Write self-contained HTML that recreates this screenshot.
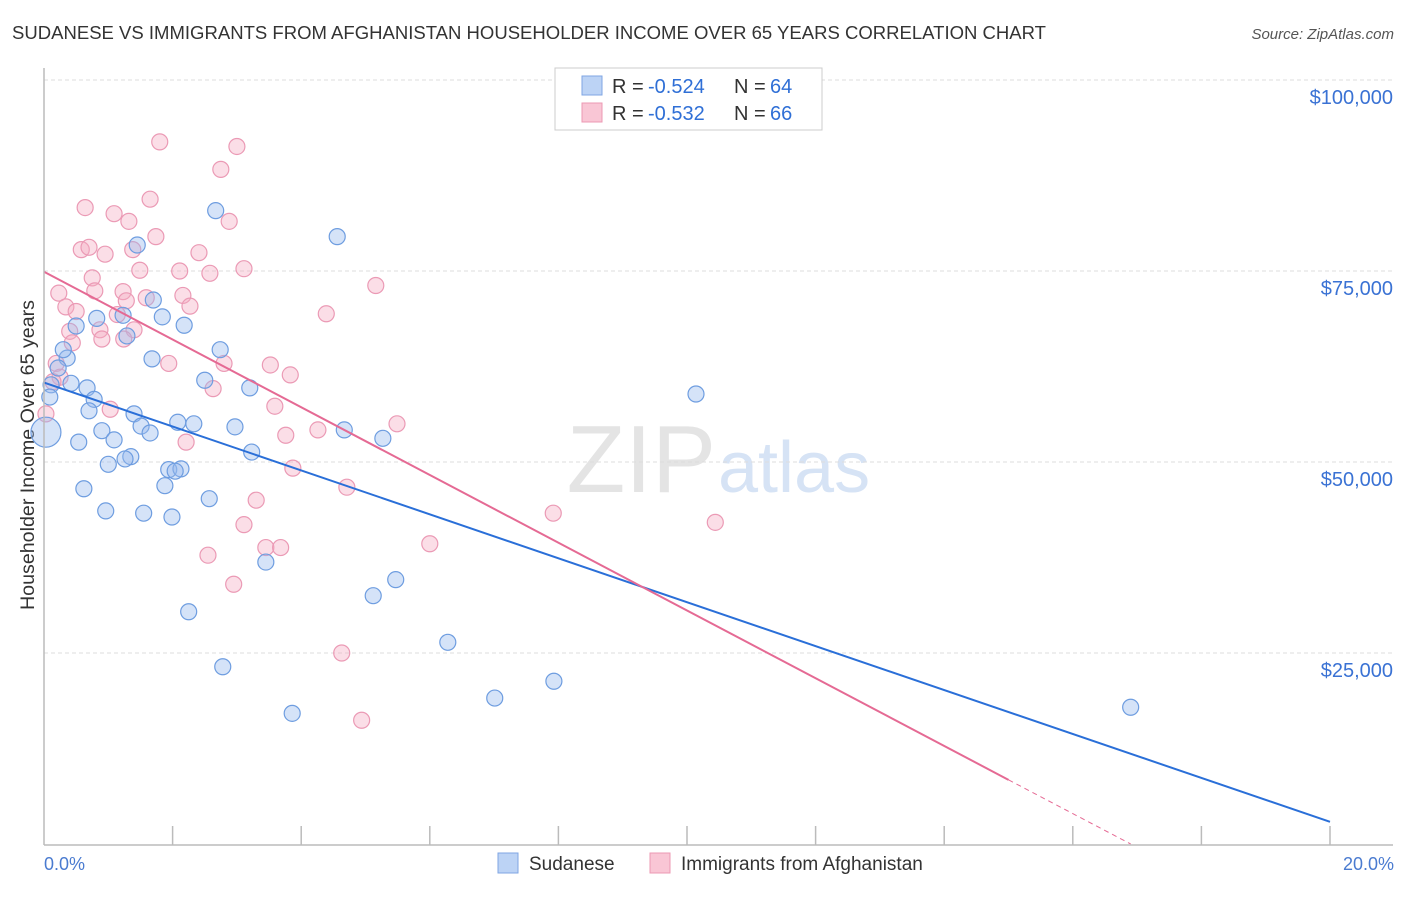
<!DOCTYPE html>
<html><head><meta charset="utf-8"><style>
body{margin:0;background:#fff;font-family:"Liberation Sans",sans-serif;}
svg text{font-family:"Liberation Sans",sans-serif;}
</style></head><body>
<svg id="c" width="1406" height="892">
<text x="12" y="39" font-size="18" fill="#333" textLength="1034" lengthAdjust="spacingAndGlyphs">SUDANESE VS IMMIGRANTS FROM AFGHANISTAN HOUSEHOLDER INCOME OVER 65 YEARS CORRELATION CHART</text>
<text x="1394" y="39" font-size="15" fill="#555" font-style="italic" text-anchor="end">Source: ZipAtlas.com</text>
<text x="716" y="492" font-size="96" fill="#e4e4e4" text-anchor="end" font-family="Liberation Serif">ZIP</text>
<text x="718" y="492" font-size="72" fill="#d6e3f5">atlas</text>
<text transform="translate(34,455) rotate(-90)" font-size="19" fill="#333" text-anchor="middle" textLength="310" lengthAdjust="spacingAndGlyphs">Householder Income Over 65 years</text>
<g id="grid"></g><g id="pts"></g><g id="lines"></g>
<line x1="44" y1="68" x2="44" y2="845" stroke="#bbb" stroke-width="1.5"/>
<line x1="44" y1="845" x2="1393" y2="845" stroke="#bbb" stroke-width="1.5"/>
<text x="44" y="870" font-size="18" fill="#4a7bd0">0.0%</text>
<text x="1394" y="870" font-size="18" fill="#4a7bd0" text-anchor="end">20.0%</text>
<g>
<rect x="555" y="68" width="267" height="62" fill="#fff" stroke="#ccc"/>
<rect x="582" y="76" width="20" height="19" fill="#bcd3f5" stroke="#7fa6e3"/>
<rect x="582" y="103" width="20" height="19" fill="#f9c6d5" stroke="#ec98b3"/>
<text x="612" y="93" font-size="20" fill="#333">R =</text><text x="648" y="93" font-size="20" fill="#2f6fd6">-0.524</text>
<text x="734" y="93" font-size="20" fill="#333">N =</text><text x="770" y="93" font-size="20" fill="#2f6fd6">64</text>
<text x="612" y="120" font-size="20" fill="#333">R =</text><text x="648" y="120" font-size="20" fill="#2f6fd6">-0.532</text>
<text x="734" y="120" font-size="20" fill="#333">N =</text><text x="770" y="120" font-size="20" fill="#2f6fd6">66</text>
</g>
<g>
<rect x="498" y="853" width="20" height="20" fill="#bcd3f5" stroke="#7fa6e3"/>
<text x="529" y="870" font-size="19" fill="#333">Sudanese</text>
<rect x="650" y="853" width="20" height="20" fill="#f9c6d5" stroke="#ec98b3"/>
<text x="681" y="870" font-size="19" fill="#333">Immigrants from Afghanistan</text>
</g>
</svg>
<script>
const yTicks=[25000,50000,75000,100000];
const yTickLabels=["$25,000","$50,000","$75,000","$100,000"];
const blueX=[2.67,4.56,1.45,1.70,2.18,1.84,0.82,1.23,1.29,0.50,0.36,0.30,1.68,0.22,2.74,2.50,0.42,0.67,0.11,0.78,0.09,3.20,1.40,0.70,2.08,2.33,1.51,1.65,2.97,4.67,5.27,0.90,1.09,0.54,3.23,1.35,1.26,1.00,1.94,2.13,2.04,1.88,0.62,2.57,0.96,1.55,1.99,10.14,3.45,5.47,5.12,2.25,6.28,2.78,7.93,7.01,3.86,16.9,0.03];
const blueY=[82.9,79.5,78.4,71.2,67.9,69.0,68.8,69.2,66.5,67.8,63.6,64.7,63.5,62.3,64.7,60.7,60.3,59.7,60.1,58.2,58.5,59.7,56.3,56.7,55.2,55.0,54.7,53.8,54.6,54.2,53.1,54.1,52.9,52.6,51.3,50.7,50.4,49.7,49.0,49.1,48.8,46.9,46.5,45.2,43.6,43.3,42.8,58.9,36.9,34.6,32.5,30.4,26.4,23.2,21.3,19.1,17.1,17.9,53.9];
const pinkX=[1.8,3.0,2.75,0.64,1.09,1.65,1.32,2.88,0.58,0.7,0.95,1.74,1.38,2.41,3.11,2.11,2.58,1.49,0.75,0.79,1.23,2.16,1.59,0.23,0.34,0.5,2.27,1.14,4.39,5.16,0.4,0.87,1.4,0.44,1.24,0.9,0.19,1.94,2.8,3.52,3.83,0.25,2.63,0.14,1.03,3.59,0.03,5.49,4.26,3.76,2.21,4.71,3.87,7.92,10.44,3.3,3.11,3.45,3.68,6.0,2.55,2.95,4.63,4.94,1.28];
const pinkY=[91.9,91.3,88.3,83.3,82.5,84.4,81.5,81.5,77.8,78.1,77.2,79.5,77.8,77.4,75.3,75.0,74.7,75.1,74.1,72.4,72.3,71.8,71.5,72.1,70.3,69.7,70.4,69.3,69.4,73.1,67.1,67.3,67.3,65.6,66.1,66.1,62.9,62.9,62.9,62.7,61.4,61.1,59.6,60.5,56.9,57.3,56.3,55.0,54.2,53.5,52.6,46.7,49.2,43.3,42.1,45.0,41.8,38.8,38.8,39.3,37.8,34.0,25.0,16.2,71.1];
const blueLine=[[0,60.4],[20,2.9]];
const pinkLine=[[0,74.9],[15.0,8.4],[16.9,0]];
const svg=document.getElementById('c');const NS='http://www.w3.org/2000/svg';
const X=v=>44+v/20*1286, Y=v=>844-v/25000*191, Yk=v=>Y(v*1000);
function mk(t,a,p){const e=document.createElementNS(NS,t);for(const k in a)e.setAttribute(k,a[k]);p.appendChild(e);return e;}
const g=document.getElementById('grid');
yTicks.forEach((t,i)=>{
 const l=mk('line',{x1:44,x2:1393,y1:Y(t),y2:Y(t),stroke:'#ddd','stroke-dasharray':'4,3'},g);
 
 
 const tx=mk('text',{x:1393,y:Y(t)+24,'font-size':20,fill:'#3a72d4','text-anchor':'end'},g);tx.textContent=yTickLabels[i];
 
 
});
for(let i=1;i<=10;i++){const l=mk('line',{x1:X(i*2),x2:X(i*2),y1:826,y2:845,stroke:'#bbb','stroke-width':1.5},g);
 
 }
const p=document.getElementById('pts');
pinkX.forEach((x,i)=>{const c=mk('circle',{cx:X(x),cy:Yk(pinkY[i]),r:8,fill:'rgba(244,172,196,0.4)',stroke:'#eb9ab5','stroke-width':1.2},p);
 
 });
blueX.forEach((x,i)=>{const c=mk('circle',{cx:X(x),cy:Yk(blueY[i]),r:i==blueX.length-1?15:8,fill:'rgba(150,185,238,0.4)',stroke:'#6e9de0','stroke-width':1.2},p);
 
 });
const L=document.getElementById('lines');
let b=mk('line',{x1:X(blueLine[0][0]),y1:Yk(blueLine[0][1]),x2:X(blueLine[1][0]),y2:Yk(blueLine[1][1]),stroke:'#2a6fd8','stroke-width':2},L);


let pk=mk('line',{x1:X(pinkLine[0][0]),y1:Yk(pinkLine[0][1]),x2:X(pinkLine[1][0]),y2:Yk(pinkLine[1][1]),stroke:'#e56a94','stroke-width':2},L);


let pd=mk('line',{x1:X(pinkLine[1][0]),y1:Yk(pinkLine[1][1]),x2:X(pinkLine[2][0]),y2:Yk(pinkLine[2][1]),stroke:'#e56a94','stroke-width':1,'stroke-dasharray':'5,4'},L);


</script>
</body></html>
